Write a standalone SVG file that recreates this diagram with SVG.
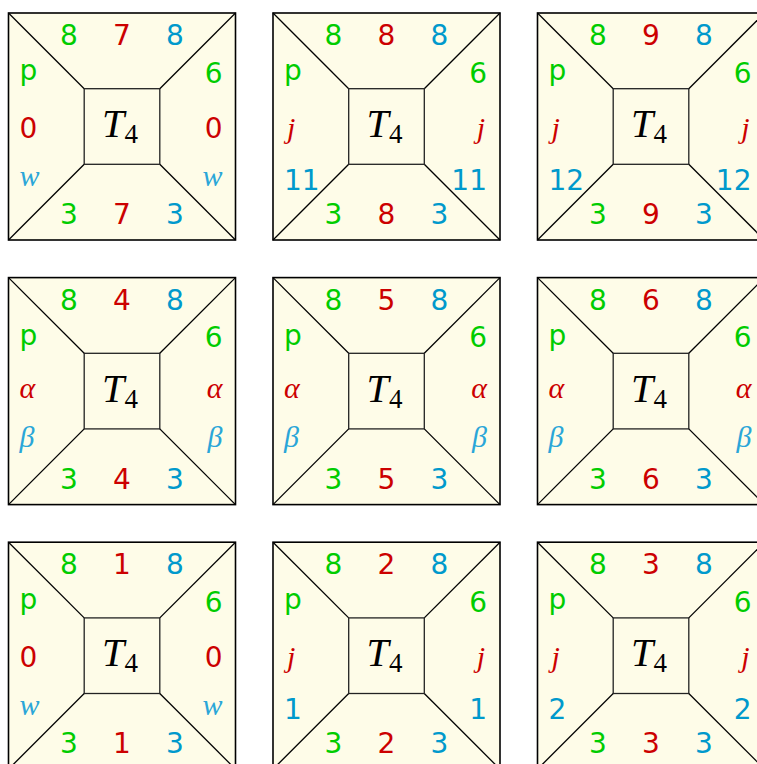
<svg xmlns="http://www.w3.org/2000/svg" width="757" height="764" viewBox="0 0 757 764">
<style>
.bg{fill:#fefce8;stroke:#000;stroke-width:1.6}
.in{fill:none;stroke:#222;stroke-width:1.3}
.dg{stroke:#000;stroke-width:1.3}
.s{font-family:"DejaVu Sans",sans-serif;font-size:28px}
.m{font-family:"Liberation Serif",serif;font-style:italic;font-size:30px}
.g{fill:#00cc00}.r{fill:#cc0000}.b{fill:#0099cc}.lb{fill:#2aa6d8}
.c{text-anchor:middle}.e{text-anchor:end}
.T{font-family:"Liberation Serif",serif;font-style:italic;font-size:40px;fill:#000}
.sub{font-family:"Liberation Serif",serif;font-size:27px;fill:#000}
</style>
<defs>
<g id="frame">
<rect class="bg" x="0" y="0" width="227" height="227"/>
<line class="dg" x1="0" y1="0" x2="75.7" y2="75.7"/>
<line class="dg" x1="227" y1="0" x2="151.3" y2="75.7"/>
<line class="dg" x1="0" y1="227" x2="75.7" y2="151.3"/>
<line class="dg" x1="227" y1="227" x2="151.3" y2="151.3"/>
<rect class="in" x="75.7" y="75.7" width="75.6" height="75.6"/>
<text class="T" x="93.5" y="124.3">T</text><text class="sub" x="116" y="130">4</text>
<text class="s g c" x="60.5" y="32.3">8</text>
<text class="s b c" x="166.5" y="32.3">8</text>
<text class="s g" x="11" y="67">p</text>
<text class="s g e" x="214" y="69.5">6</text>
<text class="s g c" x="60.5" y="211.3">3</text>
<text class="s b c" x="166.5" y="211.3">3</text>
</g>
</defs>
<g id="tile1" transform="translate(8.5,13)">
<use href="#frame"/>
<text class="s r c" x="113.5" y="32.3">7</text><text class="s r c" x="113.5" y="211.3">7</text>
<text class="s r" x="11" y="124.6">0</text><text class="s r e" x="214" y="124.6">0</text>
<text class="m lb" x="11" y="172.5">w</text><text class="m lb e" x="214" y="172.5">w</text>
</g>
<g id="tile2" transform="translate(273,13)">
<use href="#frame"/>
<text class="s r c" x="113.5" y="32.3">8</text><text class="s r c" x="113.5" y="211.3">8</text>
<text class="m r" x="14" y="124.6">j</text><text class="m r e" x="212" y="124.6">j</text>
<text class="s b" x="11" y="176.5">11</text><text class="s b e" x="214" y="176.5">11</text>
</g>
<g id="tile3" transform="translate(537.5,13)">
<use href="#frame"/>
<text class="s r c" x="113.5" y="32.3">9</text><text class="s r c" x="113.5" y="211.3">9</text>
<text class="m r" x="14" y="124.6">j</text><text class="m r e" x="212" y="124.6">j</text>
<text class="s b" x="11" y="176.5">12</text><text class="s b e" x="214" y="176.5">12</text>
</g>
<g id="tile4" transform="translate(8.5,277.6)">
<use href="#frame"/>
<text class="s r c" x="113.5" y="32.3">4</text><text class="s r c" x="113.5" y="211.3">4</text>
<text class="m r" x="11" y="120.5">α</text><text class="m r e" x="214" y="120.5">α</text>
<text class="m lb" x="11" y="169.5">β</text><text class="m lb e" x="214" y="169.5">β</text>
</g>
<g id="tile5" transform="translate(273,277.6)">
<use href="#frame"/>
<text class="s r c" x="113.5" y="32.3">5</text><text class="s r c" x="113.5" y="211.3">5</text>
<text class="m r" x="11" y="120.5">α</text><text class="m r e" x="214" y="120.5">α</text>
<text class="m lb" x="11" y="169.5">β</text><text class="m lb e" x="214" y="169.5">β</text>
</g>
<g id="tile6" transform="translate(537.5,277.6)">
<use href="#frame"/>
<text class="s r c" x="113.5" y="32.3">6</text><text class="s r c" x="113.5" y="211.3">6</text>
<text class="m r" x="11" y="120.5">α</text><text class="m r e" x="214" y="120.5">α</text>
<text class="m lb" x="11" y="169.5">β</text><text class="m lb e" x="214" y="169.5">β</text>
</g>
<g id="tile7" transform="translate(8.5,542.2)">
<use href="#frame"/>
<text class="s r c" x="113.5" y="32.3">1</text><text class="s r c" x="113.5" y="211.3">1</text>
<text class="s r" x="11" y="124.6">0</text><text class="s r e" x="214" y="124.6">0</text>
<text class="m lb" x="11" y="172.5">w</text><text class="m lb e" x="214" y="172.5">w</text>
</g>
<g id="tile8" transform="translate(273,542.2)">
<use href="#frame"/>
<text class="s r c" x="113.5" y="32.3">2</text><text class="s r c" x="113.5" y="211.3">2</text>
<text class="m r" x="14" y="124.6">j</text><text class="m r e" x="212" y="124.6">j</text>
<text class="s b" x="11" y="176.5">1</text><text class="s b e" x="214" y="176.5">1</text>
</g>
<g id="tile9" transform="translate(537.5,542.2)">
<use href="#frame"/>
<text class="s r c" x="113.5" y="32.3">3</text><text class="s r c" x="113.5" y="211.3">3</text>
<text class="m r" x="14" y="124.6">j</text><text class="m r e" x="212" y="124.6">j</text>
<text class="s b" x="11" y="176.5">2</text><text class="s b e" x="214" y="176.5">2</text>
</g>
<g id="connectors"/>
</svg>
